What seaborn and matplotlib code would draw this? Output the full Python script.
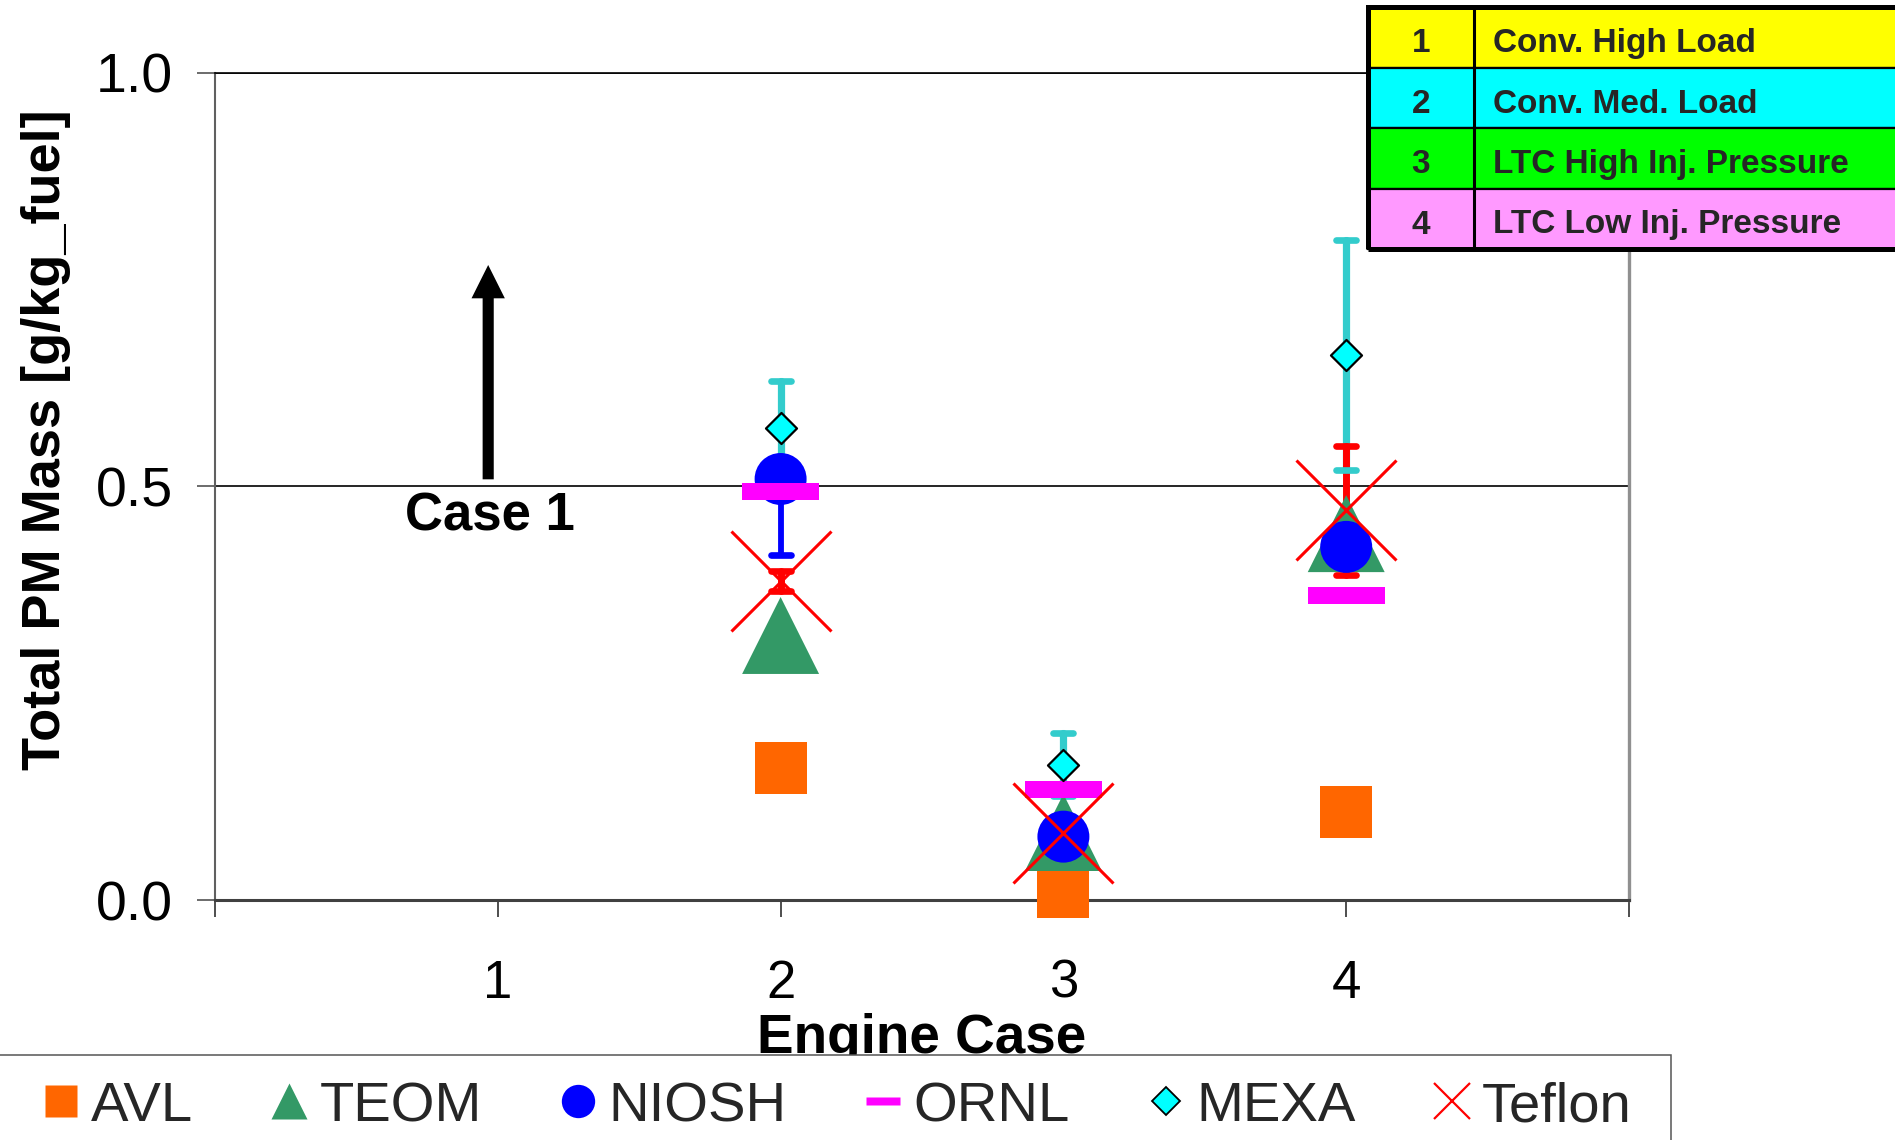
import numpy as np
import pandas as pd
import matplotlib
matplotlib.use("Agg")
import matplotlib.pyplot as plt
from matplotlib.path import Path
from matplotlib.markers import MarkerStyle
from matplotlib.lines import Line2D
from matplotlib.patches import Rectangle
import seaborn as sns

# ---------------- data ----------------
cases = [2, 3, 4]
avl = [0.160, 0.010, 0.107]
teom = [0.320, 0.082, 0.443]
niosh = [0.509, 0.077, 0.427]
niosh_err_low = [0.092, 0.0, 0.0]
ornl = [0.494, 0.134, 0.368]
mexa = [0.571, 0.164, 0.659]
mexa_err = [0.056, 0.038, 0.139]
teflon = [0.386, 0.082, 0.471]
teflon_err = [0.012, 0.0, 0.078]

series_names = ["AVL", "TEOM", "NIOSH", "ORNL", "MEXA", "Teflon"]

x_ticks = [0, 1, 2, 3, 4, 5]
x_ticklabels = ["", "1", "2", "3", "4", ""]
y_ticks = [0.0, 0.5, 1.0]
y_ticklabels = ["0.0", "0.5", "1.0"]

table_ids = ["1", "2", "3", "4"]
table_names = ["Conv. High Load", "Conv. Med. Load",
               "LTC High Inj. Pressure", "LTC Low Inj. Pressure"]
table_colors = ["#FFFF00", "#00FFFF", "#00FF00", "#FF99FF"]

# ---------------- style ----------------
sns.set_theme(style="ticks")
plt.rcParams["font.family"] = ["Liberation Sans", "DejaVu Sans"]

W, H = 1895, 1140
fig = plt.figure(figsize=(W / 100, H / 100), dpi=100)
fig.patch.set_facecolor("white")


def fx(px):
    return px / W


def fy(py):
    return 1 - py / H


ax = fig.add_axes([fx(215), fy(900.4), fx(1629) - fx(215), fy(72.5) - fy(900.4)])
ax.set_facecolor("white")

C_AVL = "#FF6600"
C_TEOM = "#339966"
C_NIOSH = "#0000FF"
C_ORNL = "#FF00FF"
C_MEXA = "#00FFFF"
C_MEXA_ERR = "#33CCCC"
C_TEF = "#FF0000"

dash_path = Path([(-1, -0.22), (1, -0.22), (1, 0.22), (-1, 0.22), (-1, -0.22)],
                 [Path.MOVETO, Path.LINETO, Path.LINETO, Path.LINETO, Path.CLOSEPOLY])


def draw_err(vals, err_low, err_high, color, lw):
    keep = [i for i in range(len(cases)) if err_low[i] > 0 or err_high[i] > 0]
    xs = [cases[i] for i in keep]
    ys = [vals[i] for i in keep]
    lo = [err_low[i] for i in keep]
    hi = [err_high[i] for i in keep]
    eb = ax.errorbar(xs, ys, yerr=[lo, hi], fmt="none", ecolor=color, elinewidth=lw,
                     capsize=7, capthick=4.8, zorder=2)
    for cap in eb[1]:
        cap.set_marker(MarkerStyle("_", capstyle="round"))
        cap.set_zorder(2.5)
    for bc in eb[2]:
        bc.set_capstyle("round")


draw_err(mexa, mexa_err, mexa_err, C_MEXA_ERR, 5.2)
draw_err(niosh, niosh_err_low, [0.0] * len(cases), C_NIOSH, 4.2)
draw_err(teflon, teflon_err, teflon_err, C_TEF, 5.0)

sns.scatterplot(x=cases, y=avl, marker="s", s=1400, color=C_AVL, edgecolor="none",
                linewidth=0, ax=ax, zorder=3, legend=False, clip_on=False)
sns.scatterplot(x=cases, y=teom, marker="^", s=3070, color=C_TEOM, edgecolor="none",
                linewidth=0, ax=ax, zorder=3.5, legend=False, clip_on=False)
sns.scatterplot(x=cases, y=niosh, marker="o", s=1400, color=C_NIOSH, edgecolor="none",
                linewidth=0, ax=ax, zorder=4, legend=False)
sns.scatterplot(x=cases, y=ornl, marker=dash_path, s=3070, color=C_ORNL, edgecolor="none",
                linewidth=0, ax=ax, zorder=5, legend=False)
sns.scatterplot(x=cases, y=mexa, marker="D", s=250, color=C_MEXA, edgecolor="black",
                linewidth=1.6, ax=ax, zorder=6, legend=False)
sns.scatterplot(x=cases, y=teflon, marker="x", s=5184, color=C_TEF,
                linewidth=2.2, ax=ax, zorder=7, legend=False)

# axes
ax.set_xlim(0, 5)
ax.set_ylim(0, 1.0)
ax.set_xticks(x_ticks)
ax.set_xticklabels(x_ticklabels)
ax.set_yticks(y_ticks)
ax.set_yticklabels(y_ticklabels)
ax.tick_params(axis="x", bottom=True, length=12, width=1.3, color="#404040",
               pad=30, labelsize=38, labelcolor="black", direction="out")
ax.tick_params(axis="y", left=True, length=13, width=1.3, color="#606060",
               pad=17, labelsize=40, labelcolor="black", direction="out")
ax.yaxis.grid(True, color="black", linewidth=1.2)
ax.xaxis.grid(False)
ax.set_axisbelow(True)
for side, col, lw in [("left", "#606060", 1.5), ("bottom", "#404040", 2.2),
                      ("right", "#909090", 2.4), ("top", "black", 1.2)]:
    ax.spines[side].set_visible(True)
    ax.spines[side].set_color(col)
    ax.spines[side].set_linewidth(lw)

ax.set_ylabel("Total PM Mass [g/kg_fuel]", fontsize=39, fontweight="bold",
              labelpad=18, y=0.556, color="black")
ax.set_xlabel("Engine Case", fontsize=39.5, fontweight="bold", labelpad=3, color="black")

# Case 1 arrow + text
ax.annotate("", xy=(0.966, 0.7675), xytext=(0.966, 0.5086),
            arrowprops=dict(arrowstyle="simple,head_width=2.4,head_length=2.4,tail_width=0.8",
                            mutation_scale=10, facecolor="black", edgecolor="none",
                            lw=0, shrinkA=0, shrinkB=0), zorder=3)
ax.text(0.973, 0.4466, "Case 1", ha="center", va="baseline", fontsize=38,
        fontweight="bold", color="black")

# ---------------- table (top right) ----------------
row_edges = [7, 67.5, 128, 188.5, 248.5]
tx0, tx1, tdiv = 1368, 1910, 1474
for i in range(4):
    y_top, y_bot = row_edges[i], row_edges[i + 1]
    fig.patches.append(Rectangle((fx(tx0), fy(y_bot)), fx(tx1) - fx(tx0),
                                 fy(y_top) - fy(y_bot), transform=fig.transFigure,
                                 facecolor=table_colors[i], edgecolor="black",
                                 linewidth=1.6, zorder=5))
    yc = (y_top + y_bot) / 2 + 3
    fig.text(fx((tx0 + tdiv) / 2), fy(yc), table_ids[i], ha="center",
             va="center_baseline", fontsize=24, fontweight="bold", zorder=6)
    fig.text(fx(1493), fy(yc), table_names[i], ha="left", va="center_baseline",
             fontsize=24, fontweight="bold", zorder=6)
fig.patches.append(Rectangle((fx(tx0), fy(row_edges[-1])), fx(tx1) - fx(tx0),
                             fy(row_edges[0]) - fy(row_edges[-1]), transform=fig.transFigure,
                             facecolor="none", edgecolor="black", linewidth=3.6, zorder=5.5))
fig.lines.append(Line2D([fx(tdiv), fx(tdiv)], [fy(row_edges[0]), fy(row_edges[-1])],
                        transform=fig.transFigure, color="black", linewidth=2.2, zorder=5.5))

# ---------------- bottom legend ----------------
fig.patches.append(Rectangle((fx(-5), fy(1150)), fx(1670.7) - fx(-5), fy(1055) - fy(1150),
                             transform=fig.transFigure, facecolor="white",
                             edgecolor="#555555", linewidth=1.1, zorder=1))
handles = [
    Line2D([], [], linestyle="none", marker="s", markersize=23.5, color=C_AVL,
           markeredgecolor="none"),
    Line2D([], [], linestyle="none", marker="^", markersize=26, color=C_TEOM,
           markeredgecolor="none"),
    Line2D([], [], linestyle="none", marker="o", markersize=24, color=C_NIOSH,
           markeredgecolor="none"),
    Line2D([], [], linestyle="none", marker=dash_path, markersize=25, color=C_ORNL,
           markeredgecolor="none"),
    Line2D([], [], linestyle="none", marker="D", markersize=14, markerfacecolor=C_MEXA,
           markeredgecolor="black", markeredgewidth=1.3),
    Line2D([], [], linestyle="none", marker="x", markersize=26, color=C_TEF,
           markeredgewidth=1.6),
]
leg = fig.legend(handles, series_names, loc="center left",
                 bbox_to_anchor=(fx(41), fy(1107)), ncol=6, frameon=False,
                 fontsize=40.5, handlelength=0.70, handletextpad=0.19,
                 columnspacing=1.36, borderpad=0, borderaxespad=0)
leg.set_zorder(6)

fig.savefig("out.png", dpi=100, facecolor="white")
